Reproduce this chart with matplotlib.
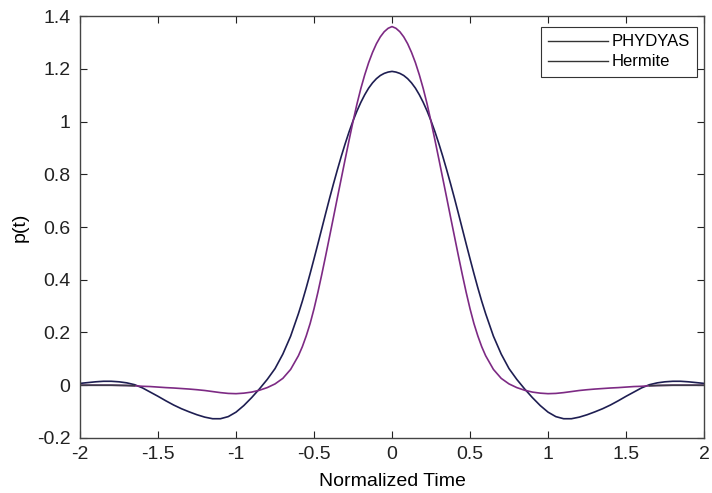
import matplotlib
matplotlib.use('Agg')
import matplotlib.pyplot as plt
from matplotlib.lines import Line2D
import numpy as np

plt.rcParams['font.family'] = ['Liberation Sans', 'DejaVu Sans']

# normalized time (finer steps around the main lobe)
t = [-2.0, -1.95, -1.9, -1.85, -1.8, -1.75, -1.7, -1.65, -1.6, -1.55,
     -1.5, -1.45, -1.4, -1.35, -1.3, -1.25, -1.2, -1.15, -1.1, -1.05,
     -1.0, -0.95, -0.9, -0.85, -0.8, -0.75, -0.7, -0.65,
     -0.6, -0.575, -0.55, -0.525, -0.5, -0.475, -0.45, -0.425, -0.4, -0.375,
     -0.35, -0.325, -0.3, -0.275, -0.25, -0.225, -0.2, -0.175, -0.15, -0.125,
     -0.1, -0.075, -0.05, -0.025,
     0.0,
     0.025, 0.05, 0.075, 0.1, 0.125, 0.15, 0.175, 0.2, 0.225, 0.25,
     0.275, 0.3, 0.325, 0.35, 0.375, 0.4, 0.425, 0.45, 0.475, 0.5,
     0.525, 0.55, 0.575, 0.6,
     0.65, 0.7, 0.75, 0.8, 0.85, 0.9, 0.95, 1.0, 1.05, 1.1,
     1.15, 1.2, 1.25, 1.3, 1.35, 1.4, 1.45, 1.5, 1.55, 1.6,
     1.65, 1.7, 1.75, 1.8, 1.85, 1.9, 1.95, 2.0]

phydyas = [0.007, 0.010, 0.013, 0.015, 0.015, 0.013, 0.009, 0.002, -0.010, -0.026,
           -0.042, -0.059, -0.075, -0.089, -0.101, -0.112, -0.121, -0.127, -0.127, -0.119,
           -0.102, -0.077, -0.047, -0.014, 0.022, 0.063, 0.118, 0.186,
           0.2715, 0.3185, 0.3695, 0.4235, 0.4795, 0.5365, 0.5945, 0.6525, 0.7095, 0.7645,
           0.8175, 0.8685, 0.9165, 0.9615, 1.0025, 1.0395, 1.0725, 1.1015, 1.1265, 1.1465,
           1.1625, 1.1745, 1.1825, 1.1875,
           1.19,
           1.1875, 1.1825, 1.1745, 1.1625, 1.1465, 1.1265, 1.1015, 1.0725, 1.0395, 1.0025,
           0.9615, 0.9165, 0.8685, 0.8175, 0.7645, 0.7095, 0.6525, 0.5945, 0.5365, 0.4795,
           0.4235, 0.3695, 0.3185, 0.2715,
           0.186, 0.118, 0.063, 0.022, -0.014, -0.047, -0.077, -0.102, -0.119, -0.127,
           -0.127, -0.121, -0.112, -0.101, -0.089, -0.075, -0.059, -0.042, -0.026, -0.010,
           0.002, 0.009, 0.013, 0.015, 0.015, 0.013, 0.010, 0.007]

hermite = [0.0, 0.0, 0.0, 0.0, 0.0, -0.0005, -0.001, -0.002, -0.004, -0.005,
           -0.007, -0.009, -0.0105, -0.0125, -0.0145, -0.017, -0.020, -0.024, -0.028, -0.031,
           -0.032, -0.030, -0.026, -0.019, -0.009, 0.005, 0.026, 0.060,
           0.112, 0.146, 0.187, 0.234, 0.290, 0.353, 0.421, 0.492, 0.565, 0.638,
           0.712, 0.785, 0.858, 0.930, 1.000, 1.066, 1.125, 1.177, 1.223, 1.262,
           1.295, 1.321, 1.3405, 1.3535,
           1.36,
           1.3535, 1.3405, 1.321, 1.295, 1.262, 1.223, 1.177, 1.125, 1.066, 1.000,
           0.930, 0.858, 0.785, 0.712, 0.638, 0.565, 0.492, 0.421, 0.353, 0.290,
           0.234, 0.187, 0.146, 0.112,
           0.060, 0.026, 0.005, -0.009, -0.019, -0.026, -0.030, -0.032, -0.031, -0.028,
           -0.024, -0.020, -0.017, -0.0145, -0.0125, -0.0105, -0.009, -0.007, -0.005, -0.004,
           -0.002, -0.001, -0.0005, 0.0, 0.0, 0.0, 0.0, 0.0]

x_ticks = [-2, -1.5, -1, -0.5, 0, 0.5, 1, 1.5, 2]
x_labels = ['-2', '-1.5', '-1', '-0.5', '0', '0.5', '1', '1.5', '2']
y_ticks = [-0.2, 0, 0.2, 0.4, 0.6, 0.8, 1, 1.2, 1.4]
y_labels = ['-0.2', '0', '0.2', '0.4', '0.6', '0.8', '1', '1.2', '1.4']

navy = '#1e1e52'
purple = '#7d2a84'


def main():
    fig = plt.figure(figsize=(7.12, 4.93), dpi=100)
    ax = fig.add_axes([0.1124, 0.1116, 0.8764, 0.8559])

    tt = np.array(t)
    hh = np.array(hermite)
    ax.plot(tt, phydyas, color=navy, lw=1.2)
    ax.plot(tt, hh, color=purple, lw=1.2)
    # flat tails of the Hermite pulse look dark grey in the original
    ax.plot(tt[tt <= -1.65], hh[tt <= -1.65], color='#3c3c48', lw=1.2)
    ax.plot(tt[tt >= 1.65], hh[tt >= 1.65], color='#3c3c48', lw=1.2)

    ax.set_xlim(-2, 2)
    ax.set_ylim(-0.2, 1.4)
    ax.set_xticks(x_ticks)
    ax.set_xticklabels(x_labels)
    ax.set_yticks(y_ticks)
    ax.set_yticklabels(y_labels)
    ax.tick_params(direction='in', length=5, width=0.8, top=True, right=True,
                   labelsize=14, colors='#222222')
    ax.tick_params(axis='y', pad=7)
    ax.tick_params(axis='x', pad=6)
    for s in ax.spines.values():
        s.set_color('#444444')
        s.set_linewidth(1.0)

    ax.set_xlabel('Normalized Time', fontsize=14)
    ax.set_ylabel('p(t)', fontsize=14)
    ax.xaxis.set_label_coords(0.5, -0.082, transform=ax.transAxes)
    ax.yaxis.set_label_coords(-0.082, 0.5, transform=ax.transAxes)

    handles = [Line2D([], [], color='#333333', lw=1.0),
               Line2D([], [], color='#333333', lw=1.0)]
    leg = ax.legend(handles, ['PHYDYAS', 'Hermite'], loc='upper right',
                    fontsize=12, handlelength=3.6, handletextpad=0.2,
                    borderpad=0.45, labelspacing=0.3, fancybox=False,
                    framealpha=1, edgecolor='#333333', borderaxespad=0,
                    bbox_to_anchor=(0.989, 0.974))
    leg.get_frame().set_linewidth(0.8)

    fig.savefig('out.png', dpi=100)


if __name__ == '__main__':
    main()
